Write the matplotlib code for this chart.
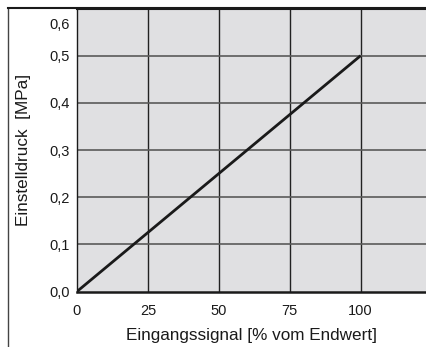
import matplotlib
matplotlib.use('Agg')
from matplotlib import pyplot as plt
from matplotlib import transforms
from matplotlib.lines import Line2D

plt.rcParams['font.family'] = ['Liberation Sans', 'DejaVu Sans']

# Kennlinie: Eingangssignal -> Einstelldruck
signal = [0, 100]
druck = [0.0, 0.5]

x_ticks = [0, 25, 50, 75, 100]
x_labels = ['0', '25', '50', '75', '100']
y_ticks = [0.0, 0.1, 0.2, 0.3, 0.4, 0.5, 0.6]
y_labels = ['0,0', '0,1', '0,2', '0,3', '0,4', '0,5', '0,6']

fig = plt.figure(figsize=(4.27, 3.47), dpi=100)
ax = fig.add_axes([77 / 427, 55.5 / 347, 1 - 77 / 427, 283 / 347])
ax.set_facecolor('#e0e0e2')

# Gitterlinien
for x in x_ticks[1:]:
    ax.axvline(x, color='#222222', lw=1.0, zorder=1)
for y in y_ticks[1:-1]:
    ax.axhline(y, color='#5a5a5a', lw=1.2, zorder=1)

ax.plot(signal, druck, color='#1a1a1a', lw=2.0, zorder=3, solid_capstyle='butt')

ax.set_xlim(0, 123.4)
ax.set_ylim(0, 0.6)
ax.set_xticks(x_ticks)
ax.set_xticklabels(x_labels)
ax.set_yticks(y_ticks)
ax.set_yticklabels(y_labels)
ax.tick_params(length=0, labelsize=10.5, colors='#1a1a1a')
ax.tick_params(axis='x', pad=9)
ax.tick_params(axis='y', pad=5)

# oberste Beschriftung etwas nach unten versetzt
top_lab = ax.get_yticklabels()[-1]
top_lab.set_transform(top_lab.get_transform() +
                      transforms.ScaledTranslation(0, -15 / 100, fig.dpi_scale_trans))

ax.spines['right'].set_visible(False)
ax.spines['bottom'].set_linewidth(1.8)
ax.spines['left'].set_linewidth(1.0)
ax.spines['top'].set_linewidth(1.5)
for s in ax.spines.values():
    s.set_color('#1a1a1a')

ax.set_xlabel('Eingangssignal [% vom Endwert]', fontsize=12.3, color='#1a1a1a', labelpad=7)
ax.set_ylabel('Einstelldruck  [MPa]', fontsize=12.3, color='#1a1a1a', labelpad=13)

# Rahmen links und oben
fig.add_artist(Line2D([8 / 427, 8 / 427], [0, 1 - 8 / 347], color='#444444', lw=1.0))
fig.add_artist(Line2D([8 / 427, 1], [1 - 8 / 347, 1 - 8 / 347], color='#1a1a1a', lw=1.5))

fig.savefig('out.png', dpi=100)
